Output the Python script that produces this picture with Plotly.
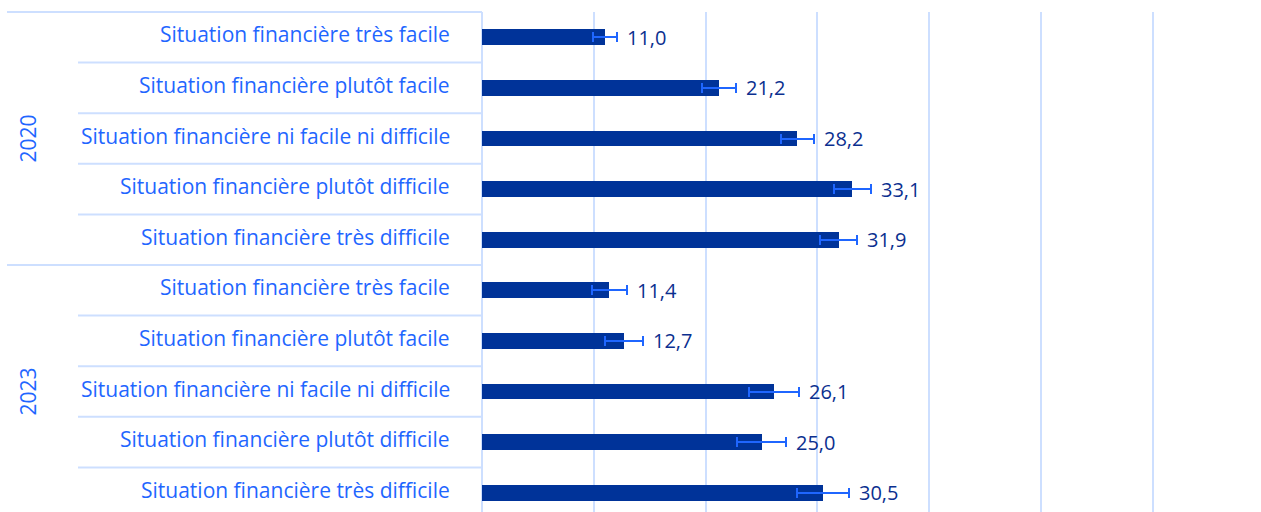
import plotly.graph_objects as go

# Survey results by year and perceived financial situation
years = ["2020", "2023"]
situations = [
    "Situation financière très facile",
    "Situation financière plutôt facile",
    "Situation financière ni facile ni difficile",
    "Situation financière plutôt difficile",
    "Situation financière très difficile",
]
values_2020 = [11.0, 21.2, 28.2, 33.1, 31.9]
values_2023 = [11.4, 12.7, 26.1, 25.0, 30.5]
errors_2020 = [1.1, 1.5, 1.5, 1.65, 1.65]
errors_2023 = [1.6, 1.7, 2.25, 2.2, 2.35]

values = values_2020 + values_2023
errors = errors_2020 + errors_2023
labels = situations + situations
rows = list(range(len(values)))

BAR = "#003399"
LABEL = "#1f66ff"
VALUE = "#0b2f8f"
GRID = "#cddfff"
FONT = "Open Sans"
FSIZE = 21

W, H = 1261, 512
ML, MT = 482, 12
plot_w = W - ML
plot_h = H - MT
row_px = 50.6
y_top = -0.5
y_bot = y_top + plot_h / row_px
x_max = plot_w / 11.18


def ypaper(v):
    return (y_bot - v) / (y_bot - y_top)


def xpaper(px):
    return (px - ML) / plot_w


fig = go.Figure(
    go.Bar(
        x=values,
        y=rows,
        orientation="h",
        width=0.31,
        marker=dict(color=BAR, line=dict(width=0)),
        error_x=dict(type="data", array=errors, color=LABEL, thickness=2, width=5),
        hoverinfo="x+y",
    )
)

# value labels placed just after the upper error bound
for r, v, e in zip(rows, values, errors):
    fig.add_annotation(
        x=v + e, y=r, xref="x", yref="y",
        text=f"{v:.1f}".replace(".", ","),
        showarrow=False, xanchor="left", xshift=8,
        font=dict(family=FONT, size=FSIZE - 1, color=VALUE),
    )

# category labels, right-aligned in the label column
for r, lab in zip(rows, labels):
    fig.add_annotation(
        x=0, y=r, xref="paper", yref="y",
        text=lab, showarrow=False, xanchor="right", yanchor="middle",
        xshift=-30, yshift=3,
        font=dict(family=FONT, size=FSIZE, color=LABEL),
    )

# row separators in the label column
n_per = len(situations)
for b in range(len(values) + 1):
    yb = b - 0.5
    if yb > y_bot:
        continue
    full = b % n_per == 0
    fig.add_shape(
        type="line", xref="paper", yref="paper",
        x0=xpaper(7 if full else 78), x1=0,
        y0=ypaper(yb), y1=ypaper(yb),
        line=dict(color=GRID, width=2),
    )

# year group labels
for g, yr in enumerate(years):
    center = g * n_per + (n_per - 1) / 2
    fig.add_annotation(
        x=xpaper(27), y=ypaper(center), xref="paper", yref="paper",
        text=yr, textangle=-90, showarrow=False,
        xanchor="center", yanchor="middle",
        font=dict(family=FONT, size=FSIZE, color=LABEL),
    )

fig.update_xaxes(
    range=[0, x_max], dtick=10, showgrid=True, gridcolor=GRID, gridwidth=2,
    zeroline=True, zerolinecolor=GRID, zerolinewidth=2,
    showticklabels=False, ticks="", showline=False, fixedrange=True,
)
fig.update_yaxes(
    range=[y_bot, y_top], showticklabels=False,
    showgrid=False, zeroline=False, showline=False, ticks="",
)
fig.update_layout(
    width=W, height=H,
    margin=dict(l=ML, r=0, t=MT, b=0, pad=0),
    paper_bgcolor="white", plot_bgcolor="white",
    showlegend=False, bargap=0,
)

fig.write_html("out.html")
